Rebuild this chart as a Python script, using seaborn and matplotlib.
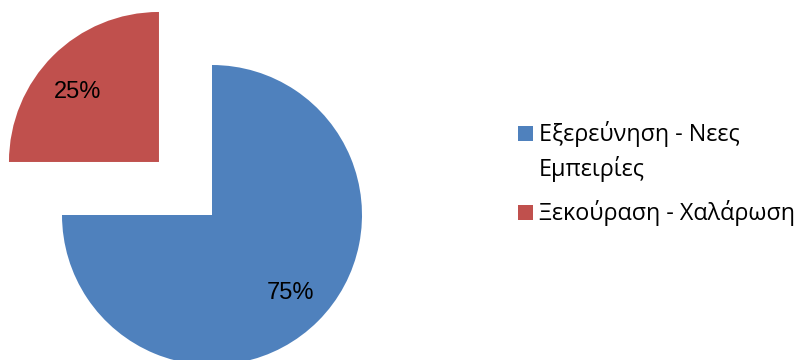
import matplotlib
matplotlib.use("Agg")
import matplotlib.pyplot as plt
import matplotlib.patches as mpatches
import seaborn as sns

sns.set_theme(style="white")
plt.rcParams["font.family"] = ["Open Sans", "DejaVu Sans"]

categories = ["Εξερεύνηση - Νεες\nΕμπειρίες", "Ξεκούραση - Χαλάρωση"]
shares = [75, 25]
explode = [0.0, 0.5]
colors = ["#4F81BD", "#C0504D"]

W, H = 800, 360
fig = plt.figure(figsize=(W / 100, H / 100), dpi=100)
ax = fig.add_axes([0, 0, 1, 1])

wedges, texts, autotexts = ax.pie(
    shares,
    colors=colors,
    explode=explode,
    startangle=90,
    counterclock=False,
    autopct="%1.0f%%",
    pctdistance=0.74,
    wedgeprops=dict(linewidth=0),
    textprops=dict(fontsize=17, color="black", family=["Liberation Sans", "DejaVu Sans"]),
)
# sit the small slice's label a little lower inside its wedge
x, y = autotexts[1].get_position()
autotexts[1].set_position((x - 0.02, y - 0.055))

# pie centre sits at (212, 145) px with a 150 px radius
ax.set_xlim(-212 / 150, (W - 212) / 150)
ax.set_ylim(-145 / 150, (H - 145) / 150)
ax.set_aspect("equal")
ax.axis("off")

# legend: square key beside the first line of each label, extra lines below
entry_top = [126, 205]      # top edge of each key square, px from top
line_gap = 35               # px between wrapped label lines
key_x, key_size = 518, 15
text_x = 539
for top, label, color in zip(entry_top, categories, colors):
    fig.patches.append(mpatches.Rectangle(
        (key_x / W, 1 - (top + key_size) / H), key_size / W, key_size / H,
        transform=fig.transFigure, facecolor=color, edgecolor="none"))
    baseline = top + key_size
    for i, line in enumerate(label.split("\n")):
        fig.text(text_x / W, 1 - (baseline + i * line_gap) / H, line,
                 fontsize=16.8, color="black", ha="left", va="baseline")

fig.savefig("out.png", dpi=100)
